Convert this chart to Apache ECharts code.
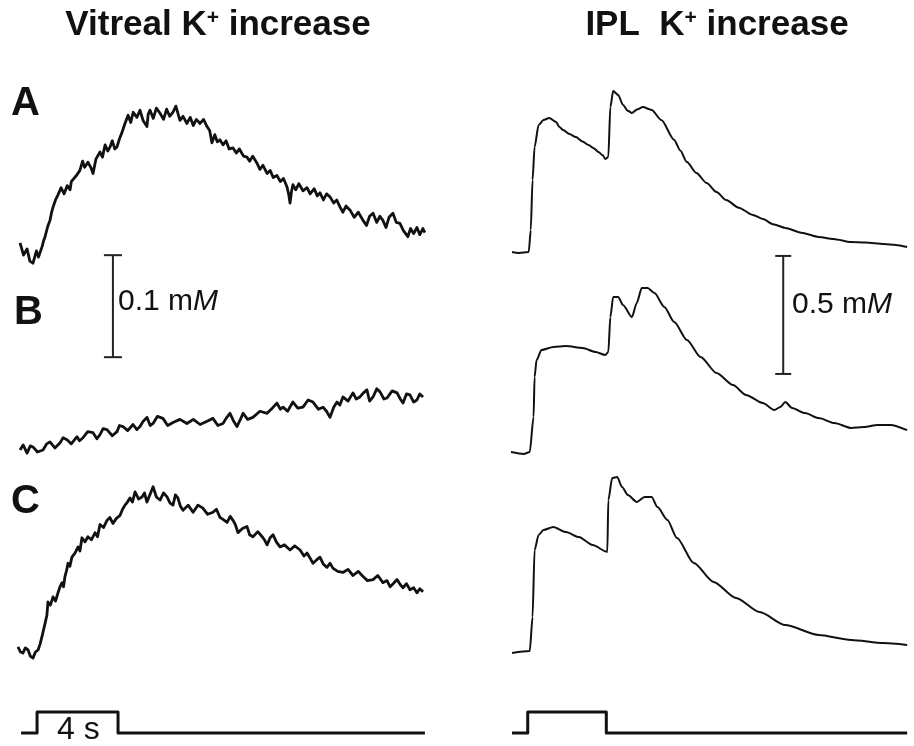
<!DOCTYPE html>
<html>
<head>
<meta charset="utf-8">
<title>K+ increase</title>
<script src="https://cdn.jsdelivr.net/npm/echarts@6.0.0/dist/echarts.min.js"></script>
<style>
  html, body { margin: 0; padding: 0; background: #fff; }
  #chart { width: 914px; height: 746px; }
</style>
</head>
<body>
<div id="chart"></div>
<script>
// time in s, K+ in mM (above each trace's own baseline)
var vitrealA = [[0.10,0.010],[0.27,-0.002],[0.44,0.004],[0.58,-0.008],[0.73,-0.010],[0.90,0.002],[1.00,-0.004],[1.17,0.006],[1.25,0.012],[1.32,0.016],[1.45,0.026],[1.56,0.032],[1.64,0.040],[1.71,0.045],[1.83,0.052],[1.95,0.057],[2.10,0.064],[2.25,0.058],[2.40,0.066],[2.54,0.062],[2.60,0.070],[2.68,0.072],[2.85,0.076],[3.02,0.081],[3.15,0.090],[3.25,0.084],[3.41,0.089],[3.55,0.084],[3.66,0.078],[3.80,0.092],[4.00,0.099],[4.12,0.094],[4.25,0.106],[4.38,0.100],[4.49,0.104],[4.60,0.110],[4.72,0.102],[4.83,0.104],[4.95,0.112],[5.07,0.118],[5.20,0.126],[5.37,0.135],[5.50,0.128],[5.62,0.138],[5.80,0.133],[5.95,0.140],[6.10,0.130],[6.29,0.124],[6.35,0.136],[6.44,0.140],[6.60,0.132],[6.75,0.142],[6.93,0.137],[7.10,0.131],[7.25,0.141],[7.40,0.134],[7.56,0.138],[7.70,0.144],[7.90,0.130],[8.05,0.134],[8.24,0.127],[8.40,0.133],[8.55,0.125],[8.70,0.131],[8.88,0.127],[9.05,0.131],[9.22,0.124],[9.35,0.120],[9.46,0.108],[9.60,0.116],[9.72,0.109],[9.85,0.111],[10.00,0.106],[10.15,0.110],[10.30,0.102],[10.49,0.103],[10.65,0.098],[10.80,0.102],[11.00,0.095],[11.17,0.094],[11.30,0.090],[11.45,0.095],[11.66,0.088],[11.80,0.082],[11.95,0.086],[12.15,0.078],[12.30,0.081],[12.45,0.074],[12.63,0.076],[12.80,0.070],[12.95,0.073],[13.12,0.065],[13.20,0.058],[13.27,0.049],[13.34,0.060],[13.41,0.067],[13.55,0.062],[13.70,0.068],[13.90,0.061],[14.10,0.064],[14.25,0.058],[14.45,0.063],[14.60,0.056],[14.73,0.059],[14.90,0.052],[15.05,0.058],[15.22,0.055],[15.40,0.049],[15.55,0.052],[15.71,0.045],[15.85,0.040],[16.00,0.046],[16.20,0.042],[16.40,0.035],[16.60,0.040],[16.83,0.032],[17.00,0.027],[17.15,0.036],[17.32,0.039],[17.50,0.030],[17.65,0.036],[17.80,0.032],[17.95,0.025],[18.10,0.035],[18.29,0.039],[18.45,0.030],[18.63,0.029],[18.80,0.022],[19.02,0.016],[19.15,0.024],[19.30,0.019],[19.46,0.025],[19.60,0.018],[19.75,0.024],[19.85,0.020]];

var vitrealB = [[0.10,0.000],[0.25,0.005],[0.44,-0.003],[0.60,0.004],[0.73,0.003],[0.95,-0.002],[1.22,0.000],[1.40,0.006],[1.56,0.008],[1.80,0.002],[2.05,0.007],[2.20,0.012],[2.39,0.010],[2.60,0.006],[2.88,0.013],[3.00,0.009],[3.17,0.012],[3.40,0.018],[3.66,0.017],[3.85,0.011],[4.00,0.015],[4.15,0.021],[4.34,0.020],[4.60,0.014],[4.83,0.018],[4.95,0.024],[5.12,0.023],[5.35,0.019],[5.61,0.025],[5.80,0.020],[5.95,0.023],[6.10,0.028],[6.29,0.032],[6.45,0.024],[6.59,0.026],[6.80,0.033],[7.07,0.031],[7.30,0.024],[7.56,0.027],[7.90,0.030],[8.24,0.026],[8.55,0.030],[8.88,0.025],[9.20,0.028],[9.51,0.031],[9.75,0.024],[10.00,0.026],[10.15,0.031],[10.34,0.036],[10.50,0.029],[10.68,0.023],[10.85,0.030],[10.98,0.036],[11.20,0.030],[11.46,0.032],[11.80,0.038],[12.15,0.036],[12.40,0.041],[12.63,0.046],[12.80,0.040],[12.93,0.042],[13.15,0.038],[13.41,0.047],[13.65,0.041],[13.90,0.042],[14.15,0.049],[14.39,0.047],[14.65,0.040],[14.88,0.042],[15.05,0.038],[15.22,0.032],[15.40,0.042],[15.56,0.047],[15.70,0.044],[15.85,0.052],[16.10,0.048],[16.34,0.056],[16.50,0.050],[16.68,0.052],[16.85,0.056],[17.02,0.059],[17.15,0.048],[17.32,0.052],[17.50,0.060],[17.66,0.057],[17.85,0.050],[18.00,0.051],[18.25,0.058],[18.49,0.056],[18.65,0.050],[18.78,0.046],[18.95,0.055],[19.12,0.054],[19.30,0.047],[19.46,0.049],[19.60,0.055],[19.76,0.052]];

var vitrealC = [[0.00,0.005],[0.12,0.000],[0.24,-0.001],[0.36,0.004],[0.49,0.002],[0.60,-0.004],[0.73,-0.006],[0.85,0.000],[0.98,0.002],[1.08,0.008],[1.17,0.015],[1.25,0.022],[1.32,0.028],[1.41,0.036],[1.46,0.049],[1.58,0.046],[1.71,0.054],[1.83,0.050],[1.95,0.058],[2.05,0.064],[2.15,0.068],[2.22,0.064],[2.29,0.074],[2.37,0.080],[2.44,0.087],[2.53,0.084],[2.63,0.093],[2.78,0.097],[2.93,0.103],[3.02,0.099],[3.12,0.112],[3.27,0.108],[3.41,0.113],[3.58,0.110],[3.76,0.117],[3.88,0.113],[4.00,0.125],[4.17,0.122],[4.34,0.129],[4.48,0.132],[4.63,0.126],[4.80,0.131],[4.98,0.134],[5.10,0.140],[5.22,0.144],[5.34,0.147],[5.46,0.151],[5.58,0.147],[5.71,0.157],[5.88,0.150],[6.05,0.152],[6.17,0.156],[6.29,0.147],[6.45,0.155],[6.59,0.162],[6.75,0.152],[6.93,0.149],[7.10,0.156],[7.27,0.152],[7.42,0.146],[7.56,0.144],[7.68,0.154],[7.80,0.151],[7.92,0.143],[8.05,0.139],[8.30,0.144],[8.54,0.137],[8.78,0.144],[9.02,0.141],[9.25,0.135],[9.51,0.137],[9.68,0.140],[9.85,0.132],[10.00,0.130],[10.20,0.127],[10.35,0.133],[10.49,0.129],[10.60,0.125],[10.73,0.117],[10.95,0.121],[11.17,0.123],[11.30,0.115],[11.46,0.113],[11.70,0.118],[11.95,0.112],[12.05,0.109],[12.15,0.105],[12.30,0.112],[12.44,0.115],[12.60,0.108],[12.78,0.103],[13.00,0.105],[13.27,0.100],[13.50,0.104],[13.76,0.100],[13.95,0.094],[14.10,0.097],[14.25,0.092],[14.39,0.087],[14.55,0.090],[14.73,0.093],[14.90,0.086],[15.07,0.083],[15.22,0.087],[15.37,0.082],[15.60,0.079],[15.85,0.078],[16.10,0.081],[16.34,0.075],[16.60,0.079],[16.83,0.074],[17.05,0.070],[17.32,0.071],[17.55,0.075],[17.80,0.068],[18.00,0.070],[18.15,0.064],[18.30,0.067],[18.49,0.071],[18.65,0.066],[18.78,0.063],[18.95,0.067],[19.12,0.061],[19.30,0.063],[19.46,0.058],[19.60,0.062],[19.76,0.059]];

var iplA = [[0.05,0.000],[0.40,-0.004],[0.88,0.000],[0.98,0.093],[1.07,0.305],[1.17,0.445],[1.37,0.538],[1.61,0.559],[1.90,0.568],[2.24,0.551],[2.40,0.530],[2.59,0.517],[2.90,0.500],[3.22,0.487],[3.55,0.468],[3.85,0.453],[4.10,0.440],[4.34,0.424],[4.55,0.410],[4.68,0.394],[4.83,0.403],[4.93,0.614],[5.07,0.682],[5.32,0.665],[5.56,0.623],[5.80,0.598],[6.00,0.589],[6.25,0.604],[6.54,0.614],[6.98,0.602],[7.46,0.559],[8.10,0.475],[8.40,0.430],[8.73,0.381],[9.20,0.335],[9.71,0.292],[10.20,0.254],[10.68,0.220],[11.30,0.188],[12.00,0.157],[12.50,0.140],[13.00,0.118],[13.61,0.102],[14.40,0.082],[15.27,0.064],[16.00,0.055],[16.88,0.042],[17.60,0.040],[18.49,0.034],[19.10,0.030],[19.66,0.021]];

var iplB = [[0.00,0.004],[0.63,-0.004],[0.93,0.004],[1.12,0.153],[1.17,0.322],[1.27,0.394],[1.51,0.436],[2.10,0.449],[2.73,0.453],[3.56,0.445],[4.20,0.428],[4.68,0.415],[4.83,0.428],[4.93,0.576],[5.07,0.661],[5.32,0.661],[5.56,0.627],[6.00,0.576],[6.24,0.636],[6.49,0.699],[6.78,0.699],[7.12,0.678],[7.61,0.619],[8.10,0.555],[8.73,0.479],[9.41,0.407],[10.20,0.339],[11.02,0.288],[11.66,0.246],[12.49,0.212],[13.07,0.182],[13.37,0.195],[13.61,0.216],[13.95,0.191],[14.59,0.169],[15.27,0.148],[16.05,0.127],[16.88,0.106],[17.51,0.110],[18.20,0.119],[18.83,0.119],[19.66,0.097]];

var iplC = [[0.05,-0.004],[0.93,0.004],[1.07,0.148],[1.17,0.432],[1.37,0.496],[1.61,0.517],[2.10,0.530],[2.73,0.508],[3.37,0.487],[4.05,0.453],[4.78,0.424],[4.83,0.644],[5.02,0.737],[5.27,0.742],[5.51,0.699],[5.80,0.665],[6.24,0.636],[6.63,0.657],[6.98,0.657],[7.27,0.614],[7.76,0.559],[8.24,0.483],[9.07,0.377],[10.05,0.297],[11.17,0.229],[12.34,0.169],[13.61,0.114],[15.27,0.072],[16.88,0.051],[18.49,0.038],[19.66,0.030]];

// stimulus (0 = off, 1 = on), 4 s pulse
var stimVitreal = [[0.15,0],[0.93,0],[0.93,1],[4.88,1],[4.88,0],[19.85,0]];
var stimIpl = [[0.05,0],[0.83,0],[0.83,1],[4.73,1],[4.73,0],[19.66,0]];

// calibration bars (mM)
var scaleVitreal = 0.1;
var scaleIpl = 0.5;

var myChart = echarts.init(document.getElementById('chart'));

var PX_PER_S = 20.5;
var PX_PER_MM_L = 1020;
var PX_PER_MM_R = 236;
var LEFT_X = 18, RIGHT_X = 511;

function traceGrid(x, base, ymin, ymax, pxmm) {
    return {
        left: x,
        top: base - ymax * pxmm,
        width: 20 * PX_PER_S,
        height: (ymax - ymin) * pxmm
    };
}

var grids = [
    traceGrid(LEFT_X, 253, -0.05, 0.2, PX_PER_MM_L),
    traceGrid(LEFT_X, 450, -0.05, 0.2, PX_PER_MM_L),
    traceGrid(LEFT_X, 652, -0.05, 0.2, PX_PER_MM_L),
    traceGrid(RIGHT_X, 252, -0.1, 0.9, PX_PER_MM_R),
    traceGrid(RIGHT_X, 453, -0.1, 0.9, PX_PER_MM_R),
    traceGrid(RIGHT_X, 652, -0.1, 0.9, PX_PER_MM_R),
    { left: LEFT_X, top: 712, width: 20 * PX_PER_S, height: 21 },
    { left: RIGHT_X, top: 712, width: 20 * PX_PER_S, height: 21 }
];
var yRanges = [[-0.05,0.2],[-0.05,0.2],[-0.05,0.2],[-0.1,0.9],[-0.1,0.9],[-0.1,0.9],[0,1],[0,1]];

var xAxes = [], yAxes = [];
for (var i = 0; i < grids.length; i++) {
    xAxes.push({ type: 'value', gridIndex: i, min: 0, max: 20, show: false });
    yAxes.push({ type: 'value', gridIndex: i, min: yRanges[i][0], max: yRanges[i][1], show: false });
}

function trace(idx, data, width, smooth) {
    return {
        type: 'line',
        xAxisIndex: idx,
        yAxisIndex: idx,
        data: data,
        showSymbol: false,
        smooth: smooth,
        smoothMonotone: 'x',
        clip: false,
        silent: true,
        lineStyle: { color: '#111', width: width, join: 'round' }
    };
}

function scaleBar(idx, t, low, size, capW) {
    return {
        type: 'line',
        xAxisIndex: idx,
        yAxisIndex: idx,
        data: [[t, low], [t, low + size]],
        symbol: 'rect',
        symbolSize: [capW, 2],
        showSymbol: true,
        clip: false,
        silent: true,
        itemStyle: { color: '#222' },
        lineStyle: { color: '#222', width: 2 }
    };
}

var font = 'Liberation Sans, Arial, Helvetica, sans-serif';

function label(x, y, text, size) {
    return {
        type: 'text', x: x, y: y,
        style: { text: text, fontFamily: font, fontSize: size, fontWeight: 'bold',
                 fill: '#111', align: 'left', verticalAlign: 'middle' }
    };
}

function title(x, y, a, b) {
    return {
        type: 'text', x: x, y: y,
        style: {
            text: '{a|' + a + '}{s|+}{a|' + b + '}',
            align: 'center', verticalAlign: 'middle',
            rich: {
                a: { fontFamily: font, fontSize: 35, fontWeight: 'bold', fill: '#111' },
                s: { fontFamily: font, fontSize: 21, fontWeight: 'bold', fill: '#111', verticalAlign: 'top' }
            }
        }
    };
}

function calText(x, y, num) {
    return {
        type: 'text', x: x, y: y,
        style: {
            text: '{n|' + num + ' m}{i|M}',
            align: 'left', verticalAlign: 'middle',
            rich: {
                n: { fontFamily: font, fontSize: 30, fill: '#111' },
                i: { fontFamily: font, fontSize: 30, fontStyle: 'italic', fill: '#111' }
            }
        }
    };
}

option = {
    backgroundColor: '#fff',
    animation: false,
    grid: grids,
    xAxis: xAxes,
    yAxis: yAxes,
    series: [
        trace(0, vitrealA, 2.8, false),
        trace(1, vitrealB, 2.8, false),
        trace(2, vitrealC, 2.8, false),
        trace(3, iplA, 2, 0.25),
        trace(4, iplB, 2, 0.25),
        trace(5, iplC, 2, 0.25),
        trace(6, stimVitreal, 3, false),
        trace(7, stimIpl, 3, false),
        scaleBar(1, 4.63, 0.091, scaleVitreal, 18),
        scaleBar(4, 13.51, 0.335, scaleIpl, 16)
    ],
    graphic: [
        title(218, 25, 'Vitreal K', ' increase'),
        title(717, 25, 'IPL  K', ' increase'),
        label(11, 104, 'A', 40),
        label(14, 313, 'B', 40),
        label(11, 502, 'C', 40),
        calText(118, 302, '0.1'),
        calText(792, 305, '0.5'),
        {
            type: 'text', x: 57, y: 730,
            style: { text: '4 s', fontFamily: font, fontSize: 32, fill: '#111',
                     align: 'left', verticalAlign: 'middle' }
        }
    ]
};

myChart.setOption(option);
window.addEventListener('resize', function () {
    myChart.resize();
});
</script>
</body>
</html>
